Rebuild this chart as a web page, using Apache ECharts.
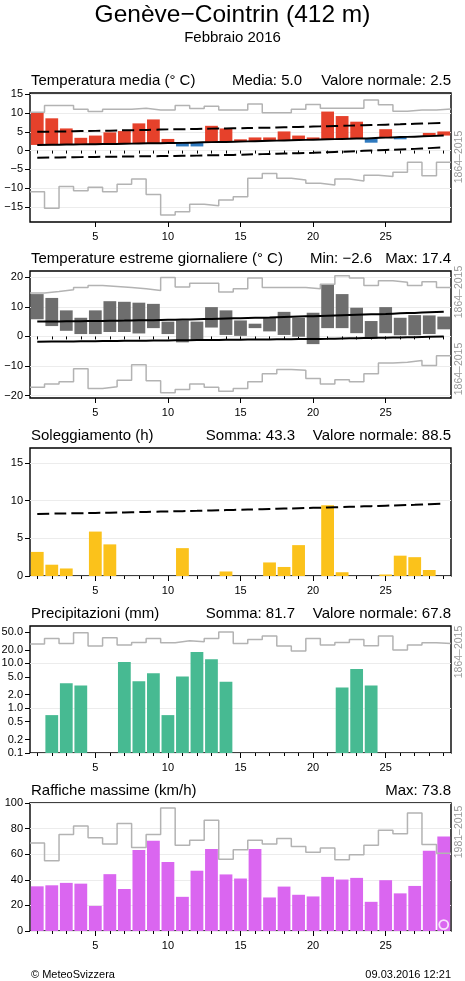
<!DOCTYPE html>
<html><head><meta charset="utf-8">
<script src="https://cdn.jsdelivr.net/npm/echarts@6/dist/echarts.min.js"></script>
<style>html,body{margin:0;padding:0;background:#fff}#c{width:465px;height:981px}</style>
</head><body><div id="c"></div>
<script>
// ---------------- DATA ----------------
const days = [1,2,3,4,5,6,7,8,9,10,11,12,13,14,15,16,17,18,19,20,21,22,23,24,25,26,27,28,29];
const xTickLabels = [5,10,15,20,25];

// Panel 1: mean temperature
const tMean       = [10.1,8.6,5.9,3.4,4.0,4.85,5.2,7.25,8.3,3.1,1.1,1.1,6.6,5.9,3.0,3.5,3.5,5.1,4.0,3.5,10.4,9.2,7.7,2.1,5.7,3.0,3.8,4.7,5.1];
const tMeanNormal = [1.5,1.55,1.6,1.65,1.7,1.75,1.8,1.9,1.95,2.0,2.05,2.15,2.25,2.3,2.4,2.5,2.6,2.7,2.8,2.9,3.0,3.1,3.2,3.3,3.45,3.6,3.7,3.85,4.0];
const tMeanUpper  = [5.0,5.05,5.1,5.2,5.25,5.3,5.4,5.45,5.55,5.65,5.7,5.75,5.85,5.9,5.95,6.05,6.1,6.2,6.3,6.4,6.5,6.6,6.7,6.8,6.9,7.0,7.15,7.25,7.4];
const tMeanLower  = [-1.9,-1.85,-1.8,-1.75,-1.7,-1.65,-1.6,-1.55,-1.5,-1.45,-1.4,-1.35,-1.25,-1.2,-1.1,-1.0,-0.9,-0.8,-0.7,-0.6,-0.45,-0.3,-0.15,0.0,0.15,0.3,0.45,0.65,0.85];
const tMeanRecMax = [10.2,12.0,12.0,11.0,10.4,11.0,11.0,11.3,10.8,10.8,12.0,11.2,11.8,10.8,10.8,12.4,10.1,10.1,11.0,12.3,11.3,11.3,11.3,13.5,12.2,10.5,10.8,10.8,11.1];
const tMeanRecMin = [-11.0,-15.4,-9.6,-10.7,-9.8,-11.0,-9.0,-7.6,-11.7,-17.2,-16.3,-14.3,-14.7,-13.2,-12.3,-7.4,-6.1,-7.4,-7.85,-8.7,-9.2,-7.6,-8.1,-6.6,-6.9,-5.8,-3.1,-6.7,-3.1];
const tMeanTicks  = [-15,-10,-5,0,5,10,15];

// Panel 2: daily extremes
const tMax       = [14.3,13.0,8.8,6.3,8.8,11.9,11.7,11.4,11.0,5.0,5.4,5.0,9.9,8.8,5.4,4.3,6.5,8.3,6.3,8.0,17.4,14.3,9.7,5.2,9.9,6.3,7.2,7.1,6.7];
const tMin       = [5.8,3.5,1.9,0.8,0.8,1.5,1.5,1.0,2.8,0.8,-2.0,-1.2,3.0,0.5,0.2,2.8,1.7,0.5,-0.1,-2.6,2.8,2.8,1.1,-0.7,1.1,0.4,0.4,0.8,2.4];
const tMaxNormal = [5.0,5.05,5.1,5.15,5.2,5.3,5.35,5.45,5.5,5.6,5.7,5.8,5.9,6.05,6.15,6.3,6.4,6.55,6.7,6.85,7.0,7.15,7.3,7.45,7.6,7.8,7.95,8.15,8.35];
const tMinNormal = [-1.8,-1.75,-1.7,-1.65,-1.6,-1.55,-1.5,-1.45,-1.4,-1.35,-1.3,-1.25,-1.2,-1.15,-1.1,-1.05,-1.0,-0.95,-0.9,-0.85,-0.8,-0.7,-0.6,-0.5,-0.45,-0.35,-0.25,-0.15,-0.05];
const tMaxRec    = [14.7,15.2,15.8,16.5,17.2,16.9,16.5,16.1,15.5,19.9,16.7,18.0,18.0,15.0,16.1,19.7,16.5,16.5,16.5,16.1,17.6,20.5,19.7,17.2,18.8,18.3,17.2,18.5,16.5];
const tMinRec    = [-17.2,-16.1,-15.3,-10.9,-17.6,-17.0,-14.8,-9.6,-15.0,-19.0,-17.9,-16.1,-17.2,-18.5,-17.6,-15.3,-12.6,-11.2,-11.4,-14.2,-16.1,-14.6,-15.3,-12.6,-9.0,-8.7,-8.1,-9.8,-6.5];
const tExtTicks  = [-20,-10,0,10,20];

// Panel 3: sunshine
const sun       = [3.2,1.5,1.0,0,5.9,4.2,0,0,0,0,3.7,0,0,0.6,0,0,1.8,1.2,4.1,0,9.4,0.5,0,0,0.2,2.7,2.5,0.8,0];
const sunNormal = [8.25,8.28,8.31,8.34,8.38,8.41,8.45,8.49,8.53,8.57,8.61,8.65,8.7,8.75,8.8,8.85,8.9,8.95,9.0,9.05,9.1,9.16,9.22,9.28,9.34,9.4,9.46,9.53,9.6];
const sunTicks  = [0,5,10,15];

// Panel 4: precipitation (log axis)
const precip     = [0,0.7,3.6,3.2,0,0,10.7,4.0,6.0,0.7,5.1,18.0,12.3,3.9,0,0,0,0,0,0,0,2.9,7.5,3.2,0,0,0,0,0];
const precipRec  = [26.9,35.9,27.8,48,24.3,37.2,25.5,29.3,35.9,28.8,31.9,30.3,35.9,49.7,27.8,34.1,40.5,24.3,18.8,35.9,25.5,29.3,34.1,24.7,40.5,19.8,25.5,28.8,27.8];
const precipTicks = [0.1,0.2,0.5,1,2,5,10,20,50];
const precipGrid  = [0.1,1,10];

// Panel 5: max gusts
const gust     = [34.9,35.7,37.6,37.0,19.6,44.4,32.8,63.2,70.6,54.0,26.7,47.1,64.0,44.2,41.0,64.0,26.2,34.7,28.3,27.0,42.3,40.2,41.5,22.8,39.7,29.4,35.2,62.7,73.8];
const gustRec  = [68.8,54.8,75.4,82.0,72.8,68.0,83.9,65.3,75.4,96.0,66.9,70.9,86.5,56.1,63.5,70.9,68.0,72.2,66.1,61.6,64.8,55.6,59.5,66.9,78.8,75.9,92.1,67.5,60.8];
const gustTicks = [0,20,40,60,80,100];
const gustFlagDay = [29];
const gustFlagValue = [5];

// ---------------- STYLE / LAYOUT ----------------
const FONT = "'Liberation Sans', Arial, Helvetica, sans-serif";
const RED = '#e6412b', BLUE = '#2f7abf', DARK = '#6e6e6e', SUN = '#fbc21b', RAIN = '#47ba92', GUST = '#da66f0', GREY = '#b3b3b3';
const X_MIN = 0.5, X_MAX = 29.5, BAR_FRAC = 0.88;
const PANELS = [
  {top: 93,  height: 129, ymin: -19.05, ymax: 15.35},
  {top: 271, height: 127, ymin: -20.8,  ymax: 22.1},
  {top: 448, height: 128, ymin: 0,      ymax: 17},
  {top: 626, height: 127, ymin: 0.1,    ymax: 68},
  {top: 803, height: 128, ymin: 0,      ymax: 100}
];

const minus = v => String(v).replace('-', '\u2212');
const stepData = vals => { const out = []; vals.forEach((v, i) => { out.push([days[i] - 0.5, v], [days[i] + 0.5, v]); }); return out; };
const pairs = vals => days.map((d, i) => [d, vals[i]]);

const grids = PANELS.map(p => ({show: true, left: 30, right: 14, top: p.top, height: p.height,
  borderColor: '#000', borderWidth: 1.4, backgroundColor: 'rgba(0,0,0,0)', containLabel: false, outerBoundsMode: 'none'}));

const xAxes = [];
PANELS.forEach((p, i) => {
  xAxes.push({type: 'value', gridIndex: i, min: X_MIN, max: X_MAX, position: 'bottom',
    axisLine: {show: false}, splitLine: {show: false}, axisLabel: {show: false},
    axisTick: {show: true, customValues: days, length: 3, lineStyle: {color: '#000', width: 1}}});
  xAxes.push({type: 'value', gridIndex: i, min: X_MIN, max: X_MAX, position: 'bottom',
    axisLine: {show: false}, splitLine: {show: false},
    axisTick: {show: true, customValues: xTickLabels, length: 5, lineStyle: {color: '#000', width: 1}},
    axisLabel: {show: true, customValues: xTickLabels, fontSize: 11, color: '#000', margin: 9, fontFamily: FONT}});
});

function yAx(i, ticks, fmt, type) {
  const p = PANELS[i];
  return {type: type || 'value', gridIndex: i, min: p.ymin, max: p.ymax,
    axisLine: {show: false},
    axisTick: {show: true, customValues: ticks, length: 5, lineStyle: {color: '#000', width: 1}},
    axisLabel: {show: true, customValues: ticks, fontSize: 11, color: '#000', margin: 7, fontFamily: FONT, formatter: fmt || minus},
    splitLine: {show: type !== 'log', lineStyle: {color: '#ececec', width: 1}}};
}
const yAxes = [
  yAx(0, tMeanTicks), yAx(1, tExtTicks), yAx(2, sunTicks),
  yAx(3, precipTicks, v => Number(v).toFixed(1), 'log'),
  yAx(4, gustTicks),
  {type: 'log', gridIndex: 3, min: PANELS[3].ymin, max: PANELS[3].ymax, axisLine: {show: false}, axisLabel: {show: false},
   axisTick: {show: false, customValues: precipGrid}, splitLine: {show: true, lineStyle: {color: '#ececec', width: 1}}}
];

function floatRect(api, d, lo, hi, fill) {
  const a = api.coord([d, hi]), b = api.coord([d, lo]);
  const w = api.size([1, 0])[0] * BAR_FRAC;
  return {type: 'rect', shape: {x: a[0] - w / 2, y: a[1], width: w, height: Math.max(b[1] - a[1], 0.6)}, style: {fill: fill}};
}
const lineS = (xi, yi, data, color, width, dash, smooth, z) => ({type: 'line', xAxisIndex: xi, yAxisIndex: yi, data: data,
  symbol: 'none', showSymbol: false, smooth: !!smooth, silent: true, z: z || 3,
  lineStyle: {color: color, width: width, type: dash || 'solid', cap: 'butt'}});
const barS = (xi, yi, vals, color) => ({type: 'bar', xAxisIndex: xi, yAxisIndex: yi, data: pairs(vals), barWidth: 12.8,
  itemStyle: {color: color}, silent: true, z: 2});
const DASH = [12, 5];

const series = [
  // Panel 1
  {type: 'custom', xAxisIndex: 0, yAxisIndex: 0, z: 2, encode: {x: 0, y: [1, 2]},
   data: days.map((d, i) => [d, tMeanNormal[i], tMean[i]]),
   renderItem: (p, api) => { const d = api.value(0), n = api.value(1), v = api.value(2);
     return floatRect(api, d, Math.min(n, v), Math.max(n, v), v >= n ? RED : BLUE); }},
  lineS(0, 0, stepData(tMeanRecMax), GREY, 1.5),
  lineS(0, 0, stepData(tMeanRecMin), GREY, 1.5),
  lineS(0, 0, pairs(tMeanNormal), '#000', 2, 'solid', true, 4),
  lineS(0, 0, pairs(tMeanUpper), '#000', 2, DASH, true, 4),
  lineS(0, 0, pairs(tMeanLower), '#000', 2, DASH, true, 4),
  // Panel 2
  {type: 'custom', xAxisIndex: 2, yAxisIndex: 1, z: 2, encode: {x: 0, y: [1, 2]},
   data: days.map((d, i) => [d, tMin[i], tMax[i]]),
   renderItem: (p, api) => floatRect(api, api.value(0), api.value(1), api.value(2), DARK)},
  lineS(2, 1, stepData(tMaxRec), GREY, 1.5),
  lineS(2, 1, stepData(tMinRec), GREY, 1.5),
  lineS(2, 1, pairs(tMaxNormal), '#000', 2, 'solid', true, 4),
  lineS(2, 1, pairs(tMinNormal), '#000', 2, 'solid', true, 4),
  // Panel 3
  barS(4, 2, sun, SUN),
  lineS(4, 2, pairs(sunNormal), '#000', 2, DASH, true, 4),
  // Panel 4
  {type: 'custom', xAxisIndex: 6, yAxisIndex: 3, z: 2, encode: {x: 0, y: 1},
   data: pairs(precip).filter(q => q[1] > 0),
   renderItem: (p, api) => floatRect(api, api.value(0), PANELS[3].ymin, api.value(1), RAIN)},
  lineS(6, 3, stepData(precipRec), GREY, 1.5),
  // Panel 5
  barS(8, 4, gust, GUST),
  lineS(8, 4, stepData(gustRec), GREY, 1.5),
  {type: 'scatter', xAxisIndex: 8, yAxisIndex: 4, data: gustFlagDay.map((d, i) => [d, gustFlagValue[i]]), z: 5,
   symbol: 'circle', symbolSize: 9, silent: true,
   itemStyle: {color: 'rgba(0,0,0,0)', borderColor: '#fff', borderWidth: 1.8}}
];

const T = (x, y, text, size, align, color, rot) => ({type: 'text', x: x, y: y, rotation: rot || 0, silent: true,
  style: {text: text, font: size + 'px ' + FONT, fill: color || '#000', align: align || 'left', verticalAlign: 'middle',
          textAlign: align || 'left', textVerticalAlign: 'middle'}});
const R = 451;
const graphics = [
  T(232.5, 15, 'Genève\u2212Cointrin (412 m)', 24.5, 'center'),
  T(232.5, 38, 'Febbraio 2016', 15, 'center'),
  T(31, 80.5, 'Temperatura media (° C)', 15),
  T(302, 80.5, 'Media: 5.0', 15, 'right'),
  T(R, 80.5, 'Valore normale: 2.5', 15, 'right'),
  T(31, 258.5, 'Temperature estreme giornaliere (° C)', 15),
  T(372, 258.5, 'Min: \u22122.6', 15, 'right'),
  T(R, 258.5, 'Max: 17.4', 15, 'right'),
  T(31, 435.5, 'Soleggiamento (h)', 15),
  T(295, 435.5, 'Somma: 43.3', 15, 'right'),
  T(R, 435.5, 'Valore normale: 88.5', 15, 'right'),
  T(31, 613.5, 'Precipitazioni (mm)', 15),
  T(295, 613.5, 'Somma: 81.7', 15, 'right'),
  T(R, 613.5, 'Valore normale: 67.8', 15, 'right'),
  T(31, 790.5, 'Raffiche massime (km/h)', 15),
  T(R, 790.5, 'Max: 73.8', 15, 'right'),
  T(459.5, 157, '1864\u20132015', 10.5, 'center', '#9a9a9a', Math.PI / 2),
  T(459.5, 292, '1864\u20132015', 10.5, 'center', '#9a9a9a', Math.PI / 2),
  T(459.5, 369, '1864\u20132015', 10.5, 'center', '#9a9a9a', Math.PI / 2),
  T(459.5, 652, '1864\u20132015', 10.5, 'center', '#9a9a9a', Math.PI / 2),
  T(459.5, 832, '1981\u20132015', 10.5, 'center', '#9a9a9a', Math.PI / 2),
  T(31, 975, '© MeteoSvizzera', 11),
  T(R, 975, '09.03.2016 12:21', 11, 'right')
];

const chart = echarts.init(document.getElementById('c'), null, {renderer: 'canvas'});
chart.setOption({
  animation: false,
  backgroundColor: '#fff',
  textStyle: {fontFamily: FONT},
  grid: grids, xAxis: xAxes, yAxis: yAxes, series: series, graphic: graphics
});
</script></body></html>
